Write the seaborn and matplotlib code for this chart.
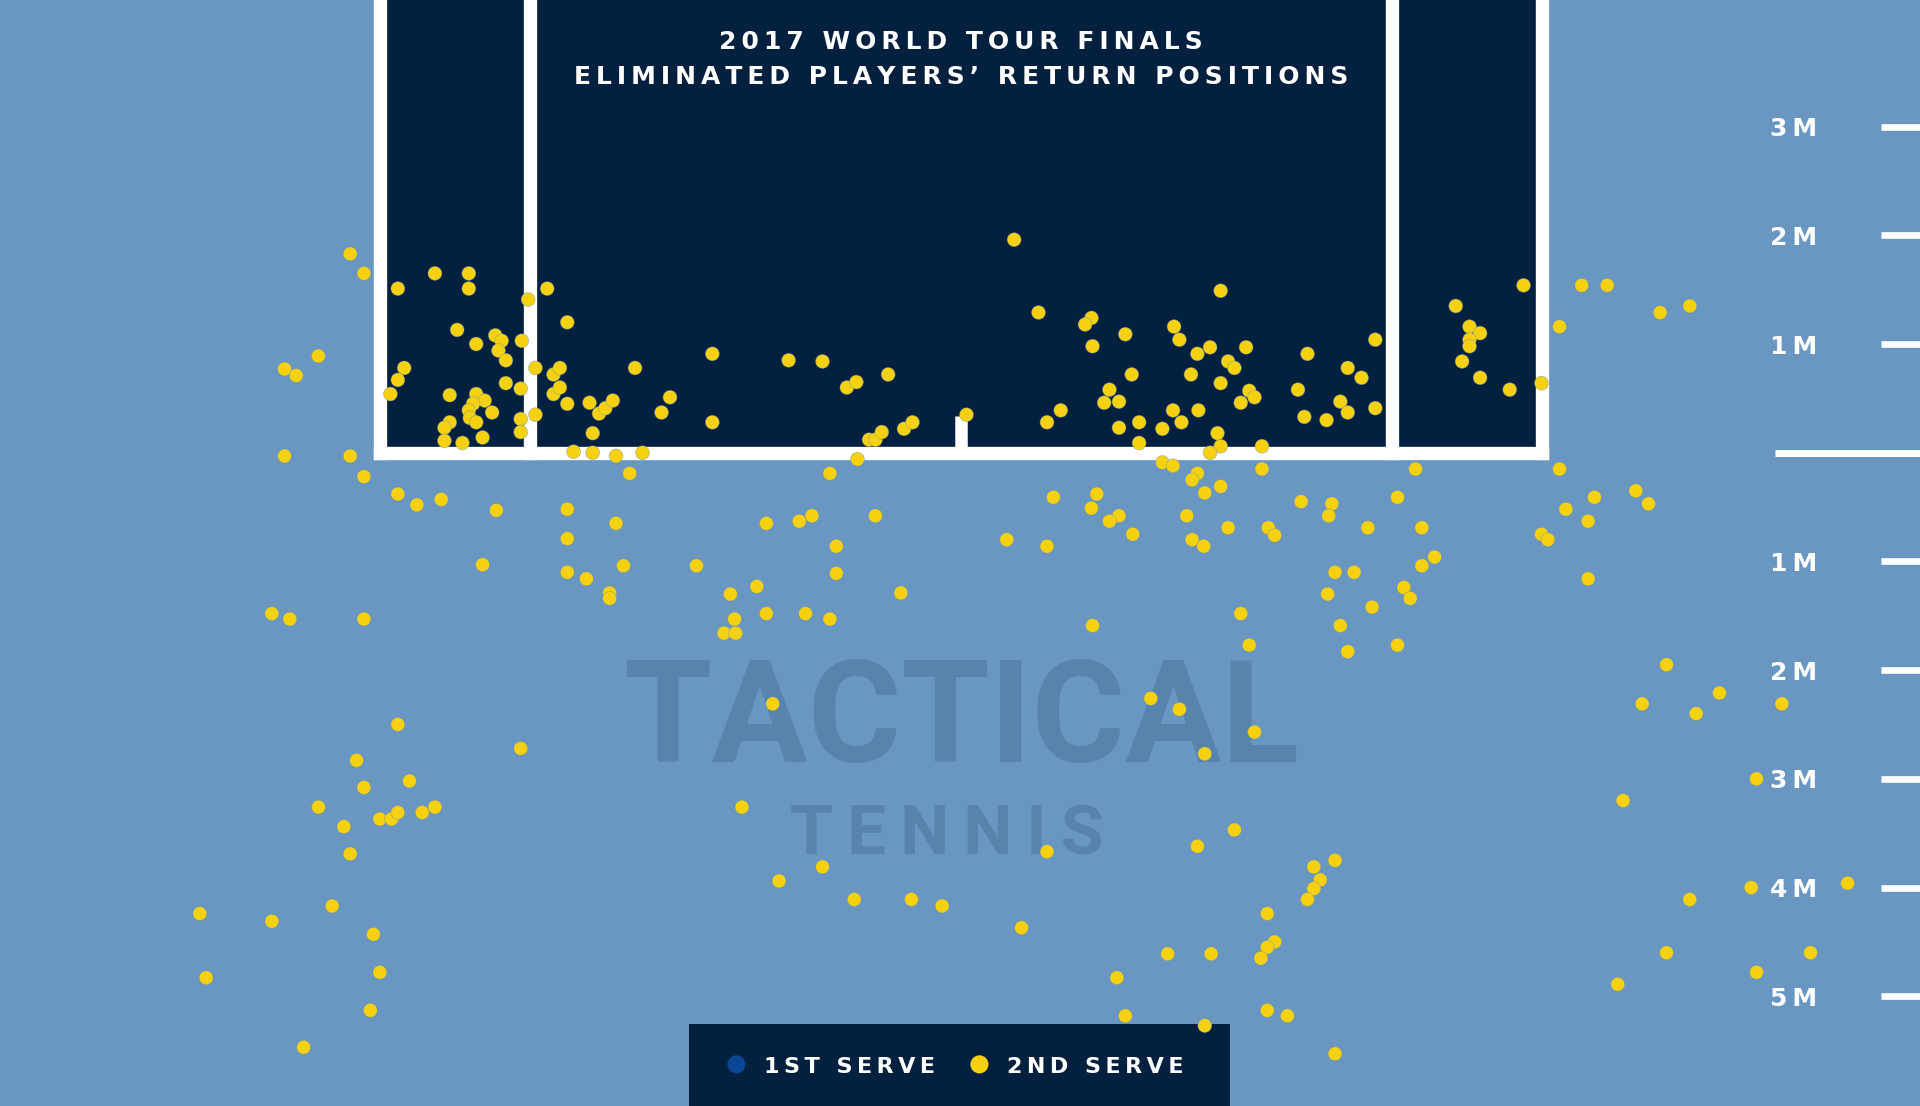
import pandas as pd
import seaborn as sns
import matplotlib.pyplot as plt
from matplotlib.patches import Rectangle

# colores
fondo = '#6997C2'
navy = '#03203F'
amarillo = '#F5D10F'
azul = '#0B4596'
marca = '#5883AD'

# posiciones de resto (metros): lateral desde el centro, profundidad desde la linea de fondo (+ dentro de la cancha)
lateral = [
    -5.77, -5.64, -6.07, -6.39, -6.28, -6.39, -5.77, -5.64, -5.32, -4.97,
    -4.65, -4.65, -4.76, -4.58, -4.40, -4.34, -4.37, -4.30, -4.15, -5.26,
    -5.32, -5.39, -4.83, -4.30, -4.16, -4.58, -4.50, -4.61, -4.65, -4.43,
    -4.64, -4.58, -4.83, -4.88, -4.88, -4.71, -4.52, -4.16, -4.16, -4.09,
    -3.91, -3.72, -4.02, -4.02, -3.85, -3.79, -3.85, -3.79, -3.72, -3.51,
    -3.42, -3.36, -3.29, -3.48, -3.08, -2.75, -2.83, -2.35, -2.35, -1.63,
    -1.31, -1.08, -0.99, -0.69, -0.87, -0.81, -0.75, -0.54, -0.46, 0.05,
    0.50, 0.73, 1.23, 1.17, 1.24, 1.55, 2.45, 2.01, 2.06, 2.35,
    2.23, 2.69, 2.52, 2.58, 2.17, 2.45, 2.72, 2.77, 2.64, 3.27,
    3.91, 3.65, 3.78, 3.18, 3.58, 3.65, 3.91, 3.24, 3.45, 1.61,
    1.40, 1.35, 1.49, 0.94, 0.81, 1.49, 1.68, 1.68, 1.90, 2.00,
    2.08, 2.24, 2.42, 2.45, 2.84, 5.31, 4.67, 4.80, 4.90, 4.80,
    4.80, 4.73, 4.90, 5.18, 5.48, 5.65, 5.86, 6.10, 6.60, 6.88,
    -3.66, -3.48, -3.26, -3.01, -3.13, -5.32, -5.14, -4.91, -4.39, -3.72,
    -3.72, -3.26, -4.52, -3.72, -3.54, -3.19, -3.32, -3.32, -6.51, -6.34,
    -5.64, -0.98, -1.24, -1.41, -1.53, -1.84, -0.81, -1.18, -1.18, -2.50,
    -1.93, -2.18, -1.84, -2.14, -2.24, -2.13, -1.47, -1.24, -0.57, 0.43,
    0.81, 0.87, 1.28, 1.23, 1.49, 1.40, 1.62, 1.24, 2.35, 1.90,
    2.00, 2.23, 2.18, 2.45, 2.30, 2.84, 2.13, 2.52, 2.18, 2.29,
    2.64, 2.72, 2.90, 2.96, 3.21, 3.50, 3.47, 3.84, 4.12, 4.29,
    4.35, 4.47, 4.35, 3.53, 3.71, 3.46, 3.88, 4.18, 4.24, 3.58,
    3.65, 4.12, 5.65, 5.98, 6.37, 6.49, 5.71, 5.92, 5.48, 5.54,
    5.92, 6.66, 7.16, 6.43, 6.94, 7.75, -5.32, -4.16, -5.71, -5.64,
    -5.21, -6.07, -5.83, -5.49, -5.38, -5.32, -5.09, -4.97, -5.77, -7.19,
    -6.51, -5.94, -5.55, -7.13, -5.49, -5.58, -6.21, -1.78, -2.07, -1.72,
    -1.31, -1.01, -0.47, -0.18, 0.57, 0.81, 1.79, 2.06, 2.30, 2.77,
    2.58, 2.23, 3.53, 3.33, 3.39, 3.33, 3.27, 2.89, 2.96, 2.89,
    2.83, 1.95, 2.36, 1.47, 1.55, 2.30, 2.89, 3.08, 3.53, 6.25,
    7.51, 7.46, 6.88, 8.37, 6.66, 8.02, 7.51, 6.20,
]
profundidad = [
    1.83, 1.65, 0.89, 0.77, 0.71, -0.03, -0.03, -0.22, 1.51, 1.65,
    1.65, 1.51, 1.13, 1.00, 1.08, 1.03, 0.94, 0.85, 1.03, 0.78,
    0.67, 0.54, 0.53, 0.64, 0.59, 0.54, 0.48, 0.45, 0.39, 0.37,
    0.32, 0.28, 0.28, 0.23, 0.11, 0.09, 0.14, 0.31, 0.19, 1.41,
    1.51, 1.20, 0.78, 0.35, 0.72, 0.78, 0.54, 0.60, 0.45, 0.46,
    0.36, 0.41, 0.48, 0.18, 0.78, 0.51, 0.37, 0.91, 0.28, 0.85,
    0.84, 0.60, 0.65, 0.72, 0.12, 0.12, 0.19, 0.22, 0.28, 0.35,
    1.96, 1.29, 1.24, 1.18, 0.98, 1.09, 1.49, 1.16, 1.04, 0.97,
    0.91, 0.97, 0.84, 0.78, 0.72, 0.64, 0.57, 0.51, 0.46, 0.91,
    1.04, 0.78, 0.69, 0.58, 0.47, 0.37, 0.41, 0.33, 0.30, 0.72,
    0.58, 0.46, 0.47, 0.39, 0.28, 0.23, 0.28, 0.09, 0.22, 0.39,
    0.28, 0.39, 0.18, 0.06, 0.06, 1.54, 1.35, 1.16, 1.10, 1.04,
    0.98, 0.84, 0.69, 0.58, 0.64, 1.16, 1.54, 1.54, 1.29, 1.35,
    0.01, 0.00, -0.03, 0.00, -0.19, -0.38, -0.48, -0.43, -0.53, -0.52,
    -0.79, -0.65, -1.03, -1.10, -1.16, -1.04, -1.29, -1.34, -1.48, -1.53,
    -1.53, -0.06, -0.19, -0.58, -0.63, -0.65, -0.58, -0.86, -1.11, -1.04,
    -1.23, -1.30, -1.48, -1.53, -1.66, -1.66, -1.48, -1.53, -1.29, -0.80,
    -0.86, -0.41, -0.38, -0.51, -0.58, -0.63, -0.75, -1.59, 0.00, -0.09,
    -0.12, -0.19, -0.25, -0.31, -0.37, -0.15, -0.58, -0.69, -0.80, -0.86,
    -1.48, -1.77, -0.69, -0.76, -0.45, -0.47, -0.58, -0.69, -0.41, -0.15,
    -0.69, -0.96, -1.04, -1.10, -1.10, -1.30, -1.42, -1.24, -1.34, -1.59,
    -1.83, -1.77, -0.15, -0.41, -0.35, -0.47, -0.52, -0.63, -0.75, -0.80,
    -1.16, -1.95, -2.21, -2.31, -2.40, -2.31, -2.50, -2.72, -2.83, -3.08,
    -3.02, -3.26, -3.44, -3.37, -3.37, -3.31, -3.31, -3.26, -3.69, -4.24,
    -4.31, -4.17, -4.43, -4.83, -4.78, -5.13, -5.47, -2.31, -3.26, -3.94,
    -3.81, -4.11, -4.11, -4.17, -4.37, -3.67, -2.26, -2.36, -2.77, -2.57,
    -3.47, -3.62, -3.75, -3.81, -3.93, -4.01, -4.11, -4.24, -4.50, -4.55,
    -4.65, -4.61, -4.61, -4.83, -5.18, -5.27, -5.13, -5.18, -5.53, -3.20,
    -3.00, -4.00, -4.11, -3.96, -4.60, -4.60, -4.78, -4.89,
]
saque = ['2nd serve'] * len(lateral)

tipos_saque = ['1st serve', '2nd serve']
etiquetas_saque = ['1ST SERVE', '2ND SERVE']

marcas_m = [3, 2, 1, -1, -2, -3, -4, -5]
etiquetas_m = ['3M', '2M', '1M', '1M', '2M', '3M', '4M', '5M']

titulo = ['2017 WORLD TOUR FINALS', 'ELIMINATED PLAYERS\u2019 RETURN POSITIONS']

df = pd.DataFrame({'lateral': lateral, 'profundidad': profundidad, 'saque': saque})


def espaciado(s):
    # separacion entre letras
    return '\u2009'.join(s)


sns.set_style('white')
plt.rcParams['font.family'] = ['DejaVu Sans']

fig = plt.figure(figsize=(19.2, 11.06), dpi=100, facecolor=fondo)
ax = fig.add_axes([0, 0, 1, 1])
ax.set_facecolor(fondo)

# cancha
ax.add_patch(Rectangle((-5.485, 0), 10.97, 5, facecolor=navy, edgecolor='none', zorder=1))
for xl in [-5.485, -4.07, 4.07, 5.485]:
    ax.plot([xl, xl], [0, 5], color='white', lw=9.6, solid_capstyle='projecting', zorder=2)
ax.plot([-5.485, 5.485], [0, 0], color='white', lw=9.6, solid_capstyle='projecting', zorder=2)
ax.plot([0, 0], [0, 0.34], color='white', lw=9, solid_capstyle='butt', zorder=2)

# marca de agua
ax.text(0, -2.845, 'TACTICAL', family=['Roboto', 'DejaVu Sans'], fontweight='bold',
        fontsize=103, color=marca, ha='center', va='baseline', zorder=3)
ax.text(-0.14, -3.698, espaciado('TENNIS'), family=['Roboto', 'DejaVu Sans'], fontweight='bold',
        fontsize=50, color=marca, ha='center', va='baseline', zorder=3)

# escala a la derecha
ax.hlines(marcas_m, 8.686, 9.2, color='white', lw=4.8, zorder=2)
ax.hlines(0, 7.684, 9.2, color='white', lw=5, zorder=2)
for m, et in zip(marcas_m, etiquetas_m):
    ax.text(7.864, m - 0.088, espaciado(et), color='white', fontsize=18, fontweight='bold',
            ha='center', va='baseline', zorder=3)

# leyenda
ax.add_patch(Rectangle((-2.57, -6.2), 5.11, 0.947, facecolor=navy, edgecolor='none', zorder=4))
ax.scatter([-2.123, 0.172], [-5.627, -5.627], s=170, c=[azul, amarillo], linewidths=0, zorder=5)
for xt, et in zip([-1.862, 0.432], etiquetas_saque):
    ax.text(xt, -5.709, espaciado(et), color='white', fontsize=16, fontweight='bold',
            ha='left', va='baseline', zorder=5)

# puntos
sns.scatterplot(data=df, x='lateral', y='profundidad', hue='saque', hue_order=tipos_saque,
                palette={'1st serve': azul, '2nd serve': amarillo}, s=100,
                edgecolor=(0.35, 0.55, 0.8, 0.5), linewidth=0.5, legend=False, ax=ax, zorder=6)

# titulo
fig.text(0.5005, 0.9554, espaciado(titulo[0]), ha='center', va='baseline', color='white',
         fontsize=18, fontweight='bold')
fig.text(0.5005, 0.9241, espaciado(titulo[1]), ha='center', va='baseline', color='white',
         fontsize=18, fontweight='bold')

ax.set_xlim(-9.077, 9.054)
ax.set_ylim(-6.01, 4.165)
ax.set_axis_off()

plt.savefig('out.png', dpi=100, facecolor=fondo)
